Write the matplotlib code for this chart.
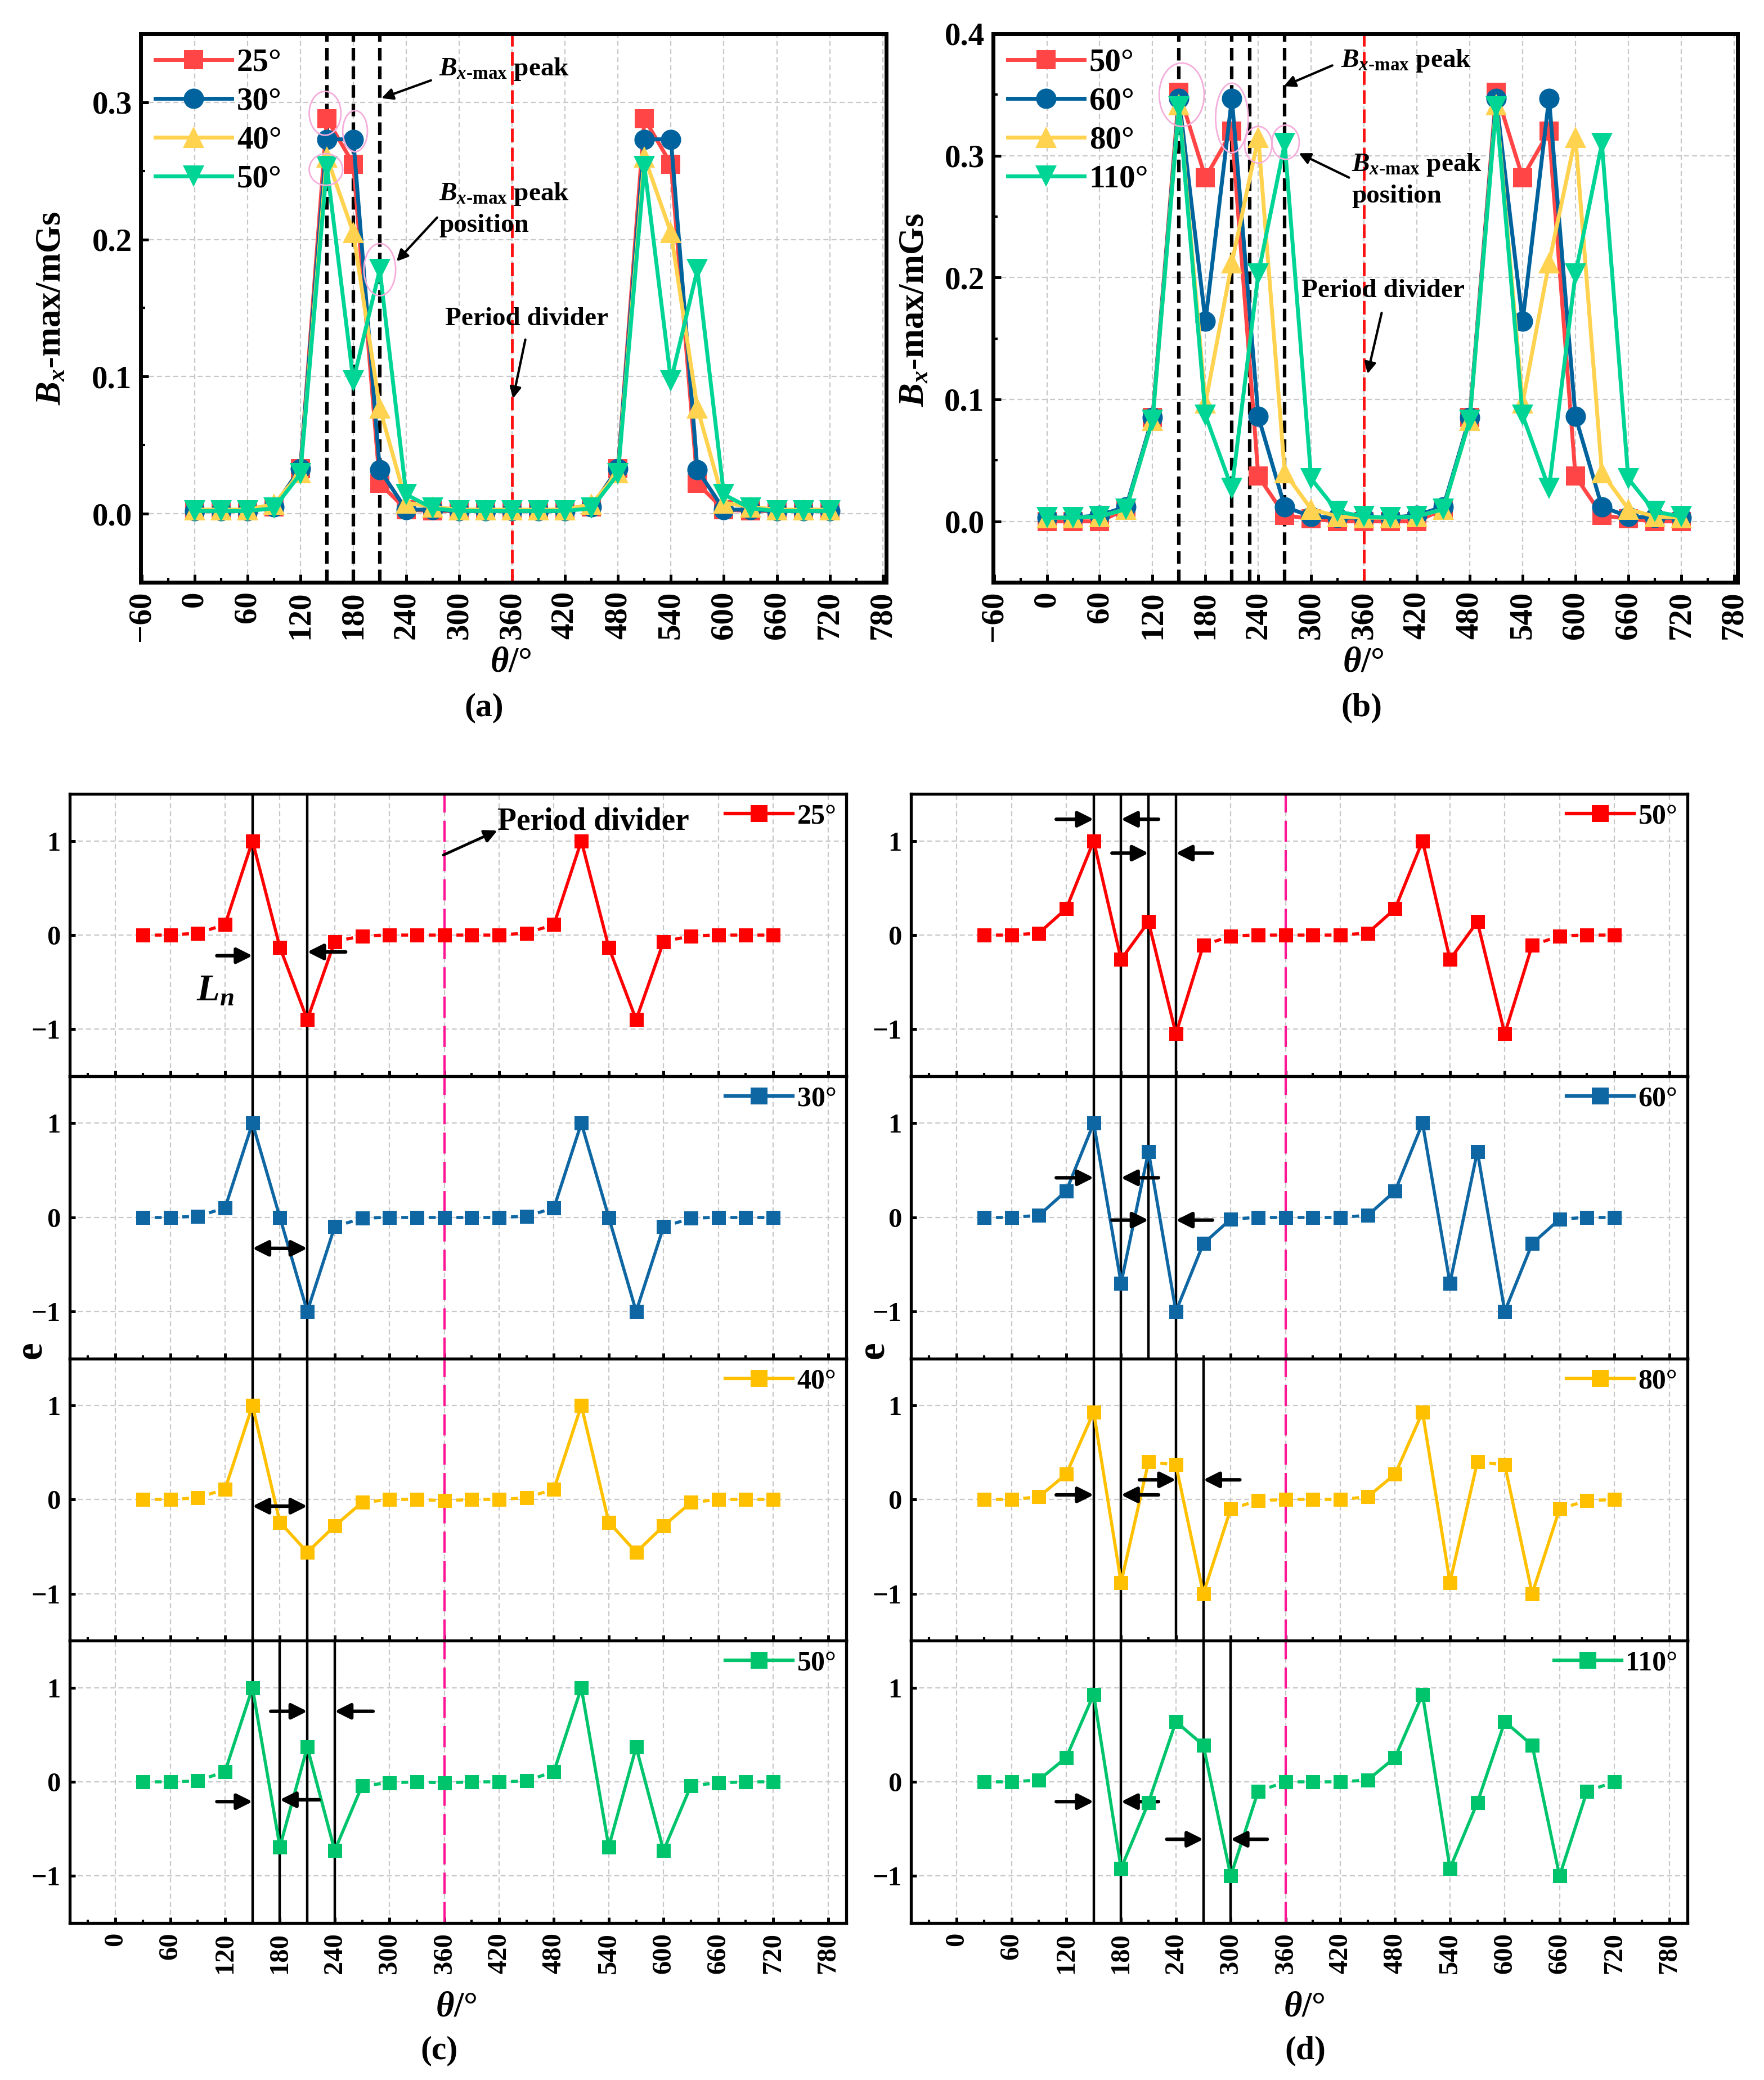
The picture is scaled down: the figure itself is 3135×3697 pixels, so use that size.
import numpy as np
import matplotlib
matplotlib.use("Agg")
import matplotlib.pyplot as plt
from matplotlib.lines import Line2D
from matplotlib.patches import Ellipse
from matplotlib.ticker import MultipleLocator, FixedLocator, FormatStrFormatter

plt.rcParams['font.family'] = ['Liberation Serif', 'DejaVu Serif']
plt.rcParams['font.weight'] = 'bold'
plt.rcParams['mathtext.fontset'] = 'custom'
plt.rcParams['mathtext.rm'] = 'Liberation Serif:bold'
plt.rcParams['mathtext.it'] = 'Liberation Serif:italic:bold'
plt.rcParams['mathtext.bf'] = 'Liberation Serif:bold'

# ----- data: panels (a) and (b), theta = 0..720 step 30 ----------------------
theta_top = [0, 30, 60, 90, 120, 150, 180, 210, 240, 270, 300, 330, 360,
             390, 420, 450, 480, 510, 540, 570, 600, 630, 660, 690, 720]

a_labels = ['25°', '30°', '40°', '50°']
a_25 = [0.002, 0.002, 0.002, 0.005, 0.033, 0.288, 0.255, 0.022, 0.003, 0.002, 0.002, 0.002, 0.002,
        0.002, 0.002, 0.005, 0.033, 0.288, 0.255, 0.022, 0.003, 0.002, 0.002, 0.002, 0.002]
a_30 = [0.002, 0.002, 0.002, 0.005, 0.033, 0.273, 0.273, 0.032, 0.003, 0.003, 0.002, 0.002, 0.002,
        0.002, 0.002, 0.005, 0.033, 0.273, 0.273, 0.032, 0.003, 0.003, 0.002, 0.002, 0.002]
a_40 = [0.003, 0.003, 0.003, 0.007, 0.030, 0.260, 0.205, 0.077, 0.008, 0.005, 0.003, 0.003, 0.003,
        0.003, 0.003, 0.007, 0.030, 0.260, 0.205, 0.077, 0.008, 0.005, 0.003, 0.003, 0.003]
a_50 = [0.002, 0.002, 0.002, 0.004, 0.029, 0.253, 0.097, 0.178, 0.014, 0.004, 0.002, 0.002, 0.002,
        0.002, 0.002, 0.004, 0.029, 0.253, 0.097, 0.178, 0.014, 0.004, 0.002, 0.002, 0.002]

b_labels = ['50°', '60°', '80°', '110°']
b_50 = [0.000, 0.000, 0.000, 0.010, 0.085, 0.352, 0.282, 0.320, 0.037, 0.005, 0.002, 0.000, 0.000,
        0.000, 0.000, 0.010, 0.085, 0.352, 0.282, 0.320, 0.037, 0.005, 0.002, 0.000, 0.000]
b_60 = [0.003, 0.003, 0.005, 0.012, 0.085, 0.347, 0.164, 0.347, 0.086, 0.012, 0.004, 0.003, 0.003,
        0.003, 0.005, 0.012, 0.085, 0.347, 0.164, 0.347, 0.086, 0.012, 0.004, 0.003, 0.003]
b_80 = [0.003, 0.003, 0.004, 0.010, 0.083, 0.342, 0.097, 0.212, 0.315, 0.040, 0.010, 0.004, 0.003,
        0.003, 0.004, 0.010, 0.083, 0.342, 0.097, 0.212, 0.315, 0.040, 0.010, 0.004, 0.003]
b_110 = [0.003, 0.003, 0.004, 0.010, 0.083, 0.340, 0.087, 0.027, 0.203, 0.310, 0.035, 0.008, 0.004,
         0.003, 0.004, 0.010, 0.083, 0.340, 0.087, 0.027, 0.203, 0.310, 0.035, 0.008, 0.004]

# ----- data: panels (c) and (d), theta = 30..720 step 30 ---------------------
theta_bot = [30, 60, 90, 120, 150, 180, 210, 240, 270, 300, 330, 360,
             390, 420, 450, 480, 510, 540, 570, 600, 630, 660, 690, 720]

c_labels = ['25°', '30°', '40°', '50°']
c_25 = [0, 0, 0.02, 0.11, 1, -0.13, -0.90, -0.07, -0.01, 0, 0, 0,
        0, 0, 0.02, 0.11, 1, -0.13, -0.90, -0.07, -0.01, 0, 0, 0]
c_30 = [0, 0, 0.01, 0.10, 1, 0, -1, -0.10, -0.01, 0, 0, 0,
        0, 0, 0.01, 0.10, 1, 0, -1, -0.10, -0.01, 0, 0, 0]
c_40 = [0, 0, 0.02, 0.11, 1, -0.24, -0.56, -0.28, -0.03, 0, 0, -0.01,
        0, 0, 0.02, 0.11, 1, -0.24, -0.56, -0.28, -0.03, 0, 0, 0]
c_50 = [0, 0, 0.01, 0.11, 1, -0.69, 0.37, -0.73, -0.04, -0.01, 0, -0.01,
        0, 0, 0.01, 0.11, 1, -0.69, 0.37, -0.73, -0.04, -0.01, 0, 0]

d_labels = ['50°', '60°', '80°', '110°']
d_50 = [0, 0, 0.02, 0.28, 1, -0.26, 0.14, -1.05, -0.11, -0.01, 0, 0,
        0, 0, 0.02, 0.28, 1, -0.26, 0.14, -1.05, -0.11, -0.01, 0, 0]
d_60 = [0, 0, 0.02, 0.28, 1, -0.70, 0.70, -1, -0.28, -0.02, 0, 0,
        0, 0, 0.02, 0.28, 1, -0.70, 0.70, -1, -0.28, -0.02, 0, 0]
d_80 = [0, 0, 0.03, 0.27, 0.93, -0.88, 0.40, 0.37, -1, -0.10, -0.01, 0,
        0, 0, 0.03, 0.27, 0.93, -0.88, 0.40, 0.37, -1, -0.10, -0.01, 0]
d_110 = [0, 0, 0.02, 0.26, 0.93, -0.92, -0.22, 0.64, 0.39, -1, -0.10, 0,
         0, 0, 0.02, 0.26, 0.93, -0.92, -0.22, 0.64, 0.39, -1, -0.10, 0]

# peak-position marker lines
a_peak_lines = [150, 180, 210]
b_peak_lines = [150, 210, 230, 270]
c_vlines = [[150, 210], [150, 210], [150, 210], [150, 180, 210, 240]]
d_vlines = [[150, 180, 210, 240], [150, 180, 210, 240], [150, 180, 240, 270], [150, 180, 270, 300]]
PERIOD = 360

# ----- styles ------------------------------------------------------------------
TOP_COLORS = ['#FF4545', '#00639E', '#FFD24F', '#00D595']
TOP_MARKERS = ['s', 'o', '^', 'v']
TOP_MS = [24, 26, 27, 27]
BOT_COLORS = ['#FF0000', '#0E66A2', '#FFC000', '#00C46C']
PINK = '#FF1493'
ELL = '#F5AEDB'
GRID = dict(color='#C8C8C8', linestyle=(0, (4, 2.5)), linewidth=1.6)

W, H = 3135, 3697
fig = plt.figure(figsize=(W / 100, H / 100), dpi=100)


def fx(px):
    return px / W


def fy(py):
    return 1 - py / H


def arrow(ax, x0, y0, x1, y1, both=False, lw=4.5, scale=42):
    style = '<|-|>' if both else '-|>'
    ax.annotate('', xy=(x1, y1), xytext=(x0, y0),
                arrowprops=dict(arrowstyle=style, color='k', lw=lw,
                                mutation_scale=scale, shrinkA=0, shrinkB=0))


def style_top(ax, ymax):
    ax.set_xlim(-61, 784)
    ax.set_ylim(-0.05, ymax)
    ax.xaxis.set_major_locator(MultipleLocator(60))
    ax.xaxis.set_minor_locator(MultipleLocator(30))
    ax.yaxis.set_major_locator(MultipleLocator(0.1))
    ax.yaxis.set_minor_locator(MultipleLocator(0.05))
    ax.yaxis.set_major_formatter(FormatStrFormatter('%.1f'))
    ax.tick_params(which='both', direction='in', top=False, right=False)
    ax.tick_params(which='major', length=10, width=3.6, labelsize=41, pad=11)
    ax.tick_params(which='minor', length=5.5, width=3)
    ax.tick_params(axis='x', labelrotation=90)
    for s in ax.spines.values():
        s.set_linewidth(5)
    ax.grid(True, which='major', **GRID)
    ax.set_axisbelow(True)


def top_panel(rect, series, labels, peak_lines, ymax):
    ax = fig.add_axes(rect)
    style_top(ax, ymax)
    for x in peak_lines:
        ax.axvline(x, color='k', lw=4.5, linestyle=(0, (3.6, 1.7)), zorder=1)
    ax.axvline(PERIOD, color='#FF1010', lw=3.5, linestyle=(0, (5, 2)), zorder=1)
    for i, (ys, lab) in enumerate(zip(series, labels)):
        ax.plot(theta_top, ys, color=TOP_COLORS[i], lw=5, marker=TOP_MARKERS[i],
                ms=TOP_MS[i], mew=0, label=lab, zorder=3 + i)
    ax.legend(loc='upper left', frameon=False, fontsize=41, handlelength=2.4,
              handletextpad=0.15, labelspacing=0.3, borderaxespad=0.25,
              borderpad=0.2, numpoints=1)
    return ax


# ----- (a) -----------------------------------------------------------------------
ax_a = top_panel([fx(250), fy(1035), fx(1575) - fx(250), fy(60) - fy(1035)],
                 [a_25, a_30, a_40, a_50], a_labels, a_peak_lines, 0.35)
for cx, cy, w, h in [(148, 0.292, 36, 0.032), (182, 0.279, 28, 0.030),
                     (149, 0.251, 38, 0.023), (210, 0.178, 36, 0.038)]:
    ax_a.add_patch(Ellipse((cx, cy), w, h, fill=False, ec=ELL, lw=2, zorder=10))
peak_txt = r'$B_{x\text{-max}}$ peak'
ax_a.text(277, 0.324, peak_txt, fontsize=34, va='center', ha='left')
arrow(ax_a, 268, 0.316, 212, 0.303, lw=3, scale=30)
ax_a.text(277, 0.222, peak_txt + '\nposition', fontsize=34, va='center', ha='left',
          linespacing=1.35)
arrow(ax_a, 275, 0.216, 229, 0.184, lw=3, scale=30)
ax_a.text(284, 0.142, 'Period divider', fontsize=34, va='center', ha='left')
arrow(ax_a, 375, 0.127, 361, 0.084, lw=3, scale=30)

# ----- (b) -----------------------------------------------------------------------
ax_b = top_panel([fx(1765), fy(1035), fx(3088) - fx(1765), fy(60) - fy(1035)],
                 [b_50, b_60, b_80, b_110], b_labels, b_peak_lines, 0.40)
for cx, cy, w, h in [(153, 0.350, 51, 0.052), (210, 0.331, 37, 0.057),
                     (240, 0.309, 31, 0.030), (271, 0.311, 31, 0.028)]:
    ax_b.add_patch(Ellipse((cx, cy), w, h, fill=False, ec=ELL, lw=2, zorder=10))
ax_b.text(334, 0.378, peak_txt, fontsize=34, va='center', ha='left')
arrow(ax_b, 324, 0.374, 269, 0.357, lw=3, scale=30)
ax_b.text(346, 0.280, peak_txt + '\nposition', fontsize=34, va='center', ha='left',
          linespacing=1.35)
arrow(ax_b, 343, 0.282, 286, 0.302, lw=3, scale=30)
ax_b.text(289, 0.189, 'Period divider', fontsize=34, va='center', ha='left')
arrow(ax_b, 380, 0.171, 364, 0.121, lw=3, scale=30)

for x_ax, lab, px in [(908, '(a)', 860), (2423, '(b)', 2420)]:
    fig.text(fx(x_ax), fy(1178), r'$\theta$/°', fontsize=45, ha='center', va='center')
    fig.text(fx(px), fy(1258), lab, fontsize=43, ha='center', va='center')
fig.text(fx(92), fy(548), r'$B_x$-max/mGs', fontsize=45, rotation=90, ha='center', va='center')
fig.text(fx(1626), fy(551), r'$B_x$-max/mGs', fontsize=45, rotation=90, ha='center', va='center')


# ----- (c) and (d) ---------------------------------------------------------------
def bottom_panel(left, width, series, labels, vlines):
    top_px, h_px = 1411, (3418 - 1411) / 4
    axes = []
    for i, (ys, lab) in enumerate(zip(series, labels)):
        y0 = top_px + (i + 1) * h_px
        ax = fig.add_axes([fx(left), fy(y0), fx(left + width) - fx(left), h_px / H])
        ax.set_xlim(-50, 800)
        ax.set_ylim(-1.5, 1.5)
        ax.xaxis.set_major_locator(MultipleLocator(60))
        ax.xaxis.set_minor_locator(MultipleLocator(30))
        ax.yaxis.set_major_locator(FixedLocator([-1, 0, 1]))
        ax.tick_params(which='both', direction='in', top=False, right=False)
        ax.tick_params(which='major', length=7.5, width=3.6, labelsize=35, pad=12)
        ax.tick_params(which='minor', length=4.5, width=3)
        ax.tick_params(axis='x', labelrotation=90)
        if i < 3:
            ax.tick_params(axis='x', labelbottom=False)
        ax.set_xticks([t for t in range(0, 781, 60)])
        for s in ax.spines.values():
            s.set_linewidth(3.8)
        ax.grid(True, which='major', **GRID)
        ax.set_axisbelow(True)
        col = BOT_COLORS[i]
        for xv in vlines[i]:
            ax.axvline(xv, color='k', lw=3.2, zorder=2)
        ax.axvline(PERIOD, color=PINK, lw=3, linestyle=(0, (9, 3.5)), zorder=2)
        # flat stretches are drawn dashed, steep ones solid
        for k in range(len(theta_bot) - 1):
            dy = abs(ys[k + 1] - ys[k])
            ls = '-' if dy >= 0.15 else (0, (2.2, 1.6))
            ax.plot(theta_bot[k:k + 2], ys[k:k + 2], color=col, lw=4, ls=ls,
                    zorder=3, solid_capstyle='butt')
        ax.plot(theta_bot, ys, ls='none', marker='s', ms=18, mew=0, color=col, zorder=4)
        h = Line2D([], [], color=col, lw=4.5, marker='s', ms=22, mew=0)
        ax.legend([h], [lab], loc='upper right', frameon=False, fontsize=36,
                  handlelength=2.4, handletextpad=0.15, borderaxespad=0.15,
                  borderpad=0.2, numpoints=1)
        axes.append(ax)
    return axes


axc = bottom_panel(124, 1380, [c_25, c_30, c_40, c_50], c_labels, c_vlines)
axd = bottom_panel(1619, 1380, [d_50, d_60, d_80, d_110], d_labels, d_vlines)

# arrows in (c)
arrow(axc[0], 111, -0.22, 150, -0.22)
arrow(axc[0], 252, -0.18, 210, -0.18)
axc[0].text(109, -0.6, r'$L_n$', fontsize=48, ha='center', va='center')
axc[0].text(418, 1.2, 'Period divider', fontsize=40, ha='left', va='center')
arrow(axc[0], 359, 0.85, 418, 1.11, lw=3.5, scale=34)
arrow(axc[1], 150, -0.33, 210, -0.33, both=True)
arrow(axc[2], 150, -0.07, 210, -0.07, both=True)
arrow(axc[3], 111, -0.21, 150, -0.21)
arrow(axc[3], 223, -0.19, 180, -0.19)
arrow(axc[3], 170, 0.75, 210, 0.75)
arrow(axc[3], 282, 0.75, 240, 0.75)

# arrows in (d)
d_arrow_y = [(1.23, 0.87), (0.42, -0.03), (0.05, 0.21), (-0.21, -0.61)]
d_pairs = [(210, 240), (210, 240), (240, 270), (270, 300)]
for i, ((ya, yb), (xl, xr)) in enumerate(zip(d_arrow_y, d_pairs)):
    arrow(axd[i], 109, ya, 150, ya)
    arrow(axd[i], 221, ya, 180, ya)
    arrow(axd[i], xl - 40, yb, xl, yb)
    arrow(axd[i], xr + 40, yb, xr, yb)

for x_ax, lab, px in [(811, '(c)', 781), (2318, '(d)', 2320)]:
    fig.text(fx(x_ax), fy(3568), r'$\theta$/°', fontsize=45, ha='center', va='center')
    fig.text(fx(px), fy(3645), lab, fontsize=43, ha='center', va='center')
fig.text(fx(55), fy(2400), 'e', fontsize=50, rotation=90, ha='center', va='center')
fig.text(fx(1552), fy(2400), 'e', fontsize=50, rotation=90, ha='center', va='center')

fig.savefig('out.png', dpi=100)
